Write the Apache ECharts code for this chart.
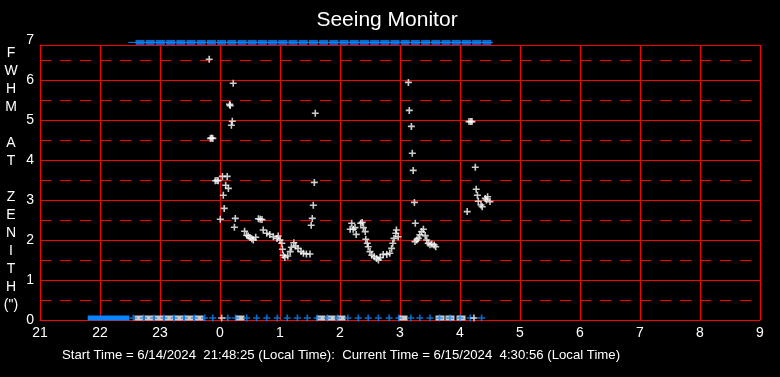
<!DOCTYPE html>
<html><head><meta charset="utf-8">
<script src="https://cdn.jsdelivr.net/npm/echarts@6/dist/echarts.min.js"></script>
<style>html,body{margin:0;padding:0;background:#000;}#c{width:780px;height:377px;}</style>
</head><body><div id="c"></div>
<script>
// ---- data ----
const hourMin = 21, hourMax = 33;            // 21:00 day 1 .. 09:00 day 2
const yTickMax = 7;
const frameTop = 6.875;
const dashedLevels = [0.5, 1.5, 2.5, 3.5, 4.5, 5.5, 6.5];

// FWHM readings: [hour (24+ = next day), arcsec]
const seeingPoints = [
  [23.82, 6.52], [23.84, 4.54], [23.86, 4.55], [23.88, 4.54],
  [23.92, 3.48], [23.95, 3.49], [23.97, 3.48], [24.04, 3.59], [24.12, 3.59],
  [24.005, 2.52], [24.055, 3.12], [24.07, 2.79], [24.095, 3.37], [24.14, 3.29],
  [24.16, 5.39], [24.17, 5.36], [24.19, 4.87], [24.205, 4.97], [24.22, 5.92],
  [24.24, 2.32], [24.255, 2.54],
  [24.41, 2.22], [24.445, 2.12], [24.47, 2.1], [24.5, 2.06], [24.53, 2.03], [24.555, 2.0], [24.595, 2.07],
  [24.64, 2.53], [24.67, 2.52], [24.7, 2.51],
  [24.72, 2.25], [24.78, 2.17], [24.83, 2.14], [24.89, 2.08], [24.95, 2.04], [24.97, 2.1],
  [25.0, 2.0], [25.03, 1.92], [25.04, 1.77], [25.055, 1.62], [25.08, 1.57], [25.13, 1.6],
  [25.17, 1.71], [25.19, 1.82], [25.23, 1.93], [25.26, 1.85], [25.3, 1.79], [25.35, 1.71],
  [25.39, 1.67], [25.44, 1.65], [25.5, 1.65],
  [25.52, 2.37], [25.538, 2.54], [25.555, 2.87], [25.572, 3.44], [25.588, 5.17],
  [26.17, 2.27], [26.195, 2.42], [26.22, 2.27], [26.25, 2.31], [26.27, 2.14],
  [26.345, 2.42], [26.37, 2.44], [26.39, 2.31], [26.42, 2.21], [26.43, 2.02], [26.455, 1.92],
  [26.47, 1.83], [26.5, 1.71], [26.53, 1.62], [26.57, 1.58], [26.61, 1.54], [26.64, 1.5],
  [26.67, 1.56], [26.72, 1.64], [26.78, 1.64], [26.83, 1.67], [26.86, 1.79], [26.88, 1.92],
  [26.9, 2.04], [26.93, 2.17], [26.94, 2.25], [26.97, 2.08],
  [27.14, 5.94], [27.155, 5.24], [27.19, 4.84], [27.205, 4.17], [27.22, 3.74], [27.24, 2.94],
  [27.255, 2.42], [27.25, 1.96], [27.28, 2.0], [27.305, 2.04], [27.33, 2.13], [27.36, 2.21],
  [27.39, 2.27], [27.42, 2.11], [27.445, 2.0], [27.47, 1.92], [27.5, 1.88], [27.53, 1.9],
  [27.57, 1.875], [27.595, 1.83],
  [28.12, 2.71], [28.15, 4.96], [28.18, 4.96], [28.2, 4.96], [28.255, 3.82], [28.27, 3.27],
  [28.29, 3.12], [28.305, 2.97], [28.35, 2.875], [28.37, 2.83], [28.42, 3.04], [28.44, 3.0],
  [28.46, 3.08], [28.5, 2.96]
];

// off-scale (high) samples shown along the top
const topRowValue = 6.94;
const topRowTimes = [22.667, 22.837, 23.007, 23.177, 23.347, 23.517, 23.687, 23.857, 24.027,
  24.197, 24.367, 24.537, 24.707, 24.877, 25.047, 25.217, 25.387, 25.557, 25.727, 25.897,
  26.067, 26.237, 26.407, 26.577, 26.747, 26.917, 27.087, 27.257, 27.427, 27.597, 27.767,
  27.937, 28.107, 28.277, 28.447];
const topRowSpan = [22.47, 28.55];

// status samples along the bottom
const bottomRowValue = 0.05;
const bottomBlueSpan = [21.795, 22.49];
const bottomBlueTimes = [22.555, 22.725, 22.895, 23.065, 23.235, 23.405, 23.575, 23.745, 23.88,
  24.13, 24.26, 24.445, 24.61, 24.78, 24.955, 25.12, 25.29, 25.455, 25.62, 25.79, 25.96, 26.13,
  26.305, 26.47, 26.64, 26.82, 26.98, 27.18, 27.33, 27.5, 27.66, 27.83, 28.0, 28.17, 28.36];
const bottomWhiteTimes = [22.65, 22.817, 22.983, 23.15, 23.317, 23.483, 23.65, 24.333,
  25.683, 25.85, 26.017, 27.05, 27.667, 27.833, 28.017];
const bottomWhitePlusTimes = [24.028, 28.233];

const titleText = 'Seeing Monitor';
const yTitle = 'F\nW\nH\nM\n\nA\nT\n\nZ\nE\nN\nI\nT\nH\n(")';
const footText = 'Start Time = 6/14/2024  21:48:25 (Local Time):  Current Time = 6/15/2024  4:30:56 (Local Time)';

// ---- chart ----
const RED = '#ff0000', BLUE = '#0a84ff', WHITE = '#ffffff';
const FONT = '"Liberation Sans", Arial, sans-serif';
const PLUS = 'path://M2.7,0H4.3V2.7H7V4.3H4.3V7H2.7V4.3H0V2.7H2.7Z';
const row = (ts, v) => ts.map(t => [t, v]);

const chart = echarts.init(document.getElementById('c'), null, {renderer: 'canvas'});
chart.setOption({
  backgroundColor: '#000',
  animation: false,
  grid: [
    {left: 40, right: 20, top: 40, bottom: 57},
    {left: 40, right: 20, top: 45, bottom: 57}
  ],
  xAxis: [
    {gridIndex: 0, type: 'value', min: hourMin, max: hourMax, show: false},
    {gridIndex: 1, type: 'value', min: hourMin, max: hourMax, interval: 1,
      axisLine: {lineStyle: {color: RED, width: 1}}, axisTick: {show: false},
      splitLine: {show: true, lineStyle: {color: RED, width: 1}},
      axisLabel: {color: WHITE, fontSize: 14, fontFamily: FONT, margin: 6,
        formatter: v => String(v % 24)}}
  ],
  yAxis: [
    {gridIndex: 0, type: 'value', min: 0, max: yTickMax, interval: 1,
      axisLine: {show: false}, axisTick: {show: false}, splitLine: {show: false},
      axisLabel: {color: WHITE, fontSize: 14, fontFamily: FONT, margin: 6}},
    {gridIndex: 1, type: 'value', min: 0, max: frameTop, interval: 1,
      axisLine: {show: true, lineStyle: {color: RED, width: 1}}, axisTick: {show: false},
      axisLabel: {show: false},
      splitLine: {show: true, lineStyle: {color: RED, width: 1}}}
  ],
  graphic: [
    {type: 'text', x: 387, y: 20, style: {text: titleText, fill: WHITE, font: '21px ' + FONT,
      textAlign: 'center', textVerticalAlign: 'middle'}},
    {type: 'text', x: 11, y: 44, style: {text: yTitle, fill: WHITE, font: '14px ' + FONT,
      textAlign: 'center', textVerticalAlign: 'top', lineHeight: 18}},
    {type: 'text', x: 62, y: 355, style: {text: footText, fill: WHITE, font: '13.2px ' + FONT,
      textAlign: 'left', textVerticalAlign: 'middle'}}
  ],
  series: [
    {type: 'line', xAxisIndex: 1, yAxisIndex: 1, data: [], z: 1, silent: true,
      markLine: {silent: true, symbol: ['none', 'none'], label: {show: false},
        lineStyle: {color: RED, width: 1, type: [11, 9]},
        data: dashedLevels.map(v => ({yAxis: v}))}},
    {type: 'line', xAxisIndex: 0, yAxisIndex: 0, data: row(topRowSpan, topRowValue),
      showSymbol: false, lineStyle: {color: BLUE, width: 1}, z: 3},
    {type: 'scatter', xAxisIndex: 0, yAxisIndex: 0, data: row(topRowTimes, topRowValue),
      symbol: 'rect', symbolSize: [9, 5], itemStyle: {color: BLUE}, z: 4},
    {type: 'line', xAxisIndex: 0, yAxisIndex: 0, data: row(bottomBlueSpan, bottomRowValue),
      showSymbol: false, lineStyle: {color: BLUE, width: 5, cap: 'butt'}, z: 3},
    {type: 'scatter', xAxisIndex: 0, yAxisIndex: 0, data: row(bottomWhiteTimes, bottomRowValue),
      symbol: 'rect', symbolSize: [9, 5], itemStyle: {color: WHITE}, z: 4},
    {type: 'scatter', xAxisIndex: 0, yAxisIndex: 0, data: row(bottomBlueTimes, bottomRowValue),
      symbol: PLUS, symbolSize: 7, itemStyle: {color: BLUE}, z: 5},
    {type: 'scatter', xAxisIndex: 0, yAxisIndex: 0, data: row(bottomWhitePlusTimes, bottomRowValue),
      symbol: PLUS, symbolSize: 7, itemStyle: {color: WHITE}, z: 5},
    {type: 'scatter', xAxisIndex: 0, yAxisIndex: 0, data: seeingPoints,
      symbol: PLUS, symbolSize: 7, itemStyle: {color: WHITE}, z: 6}
  ]
});
</script>
</body></html>
